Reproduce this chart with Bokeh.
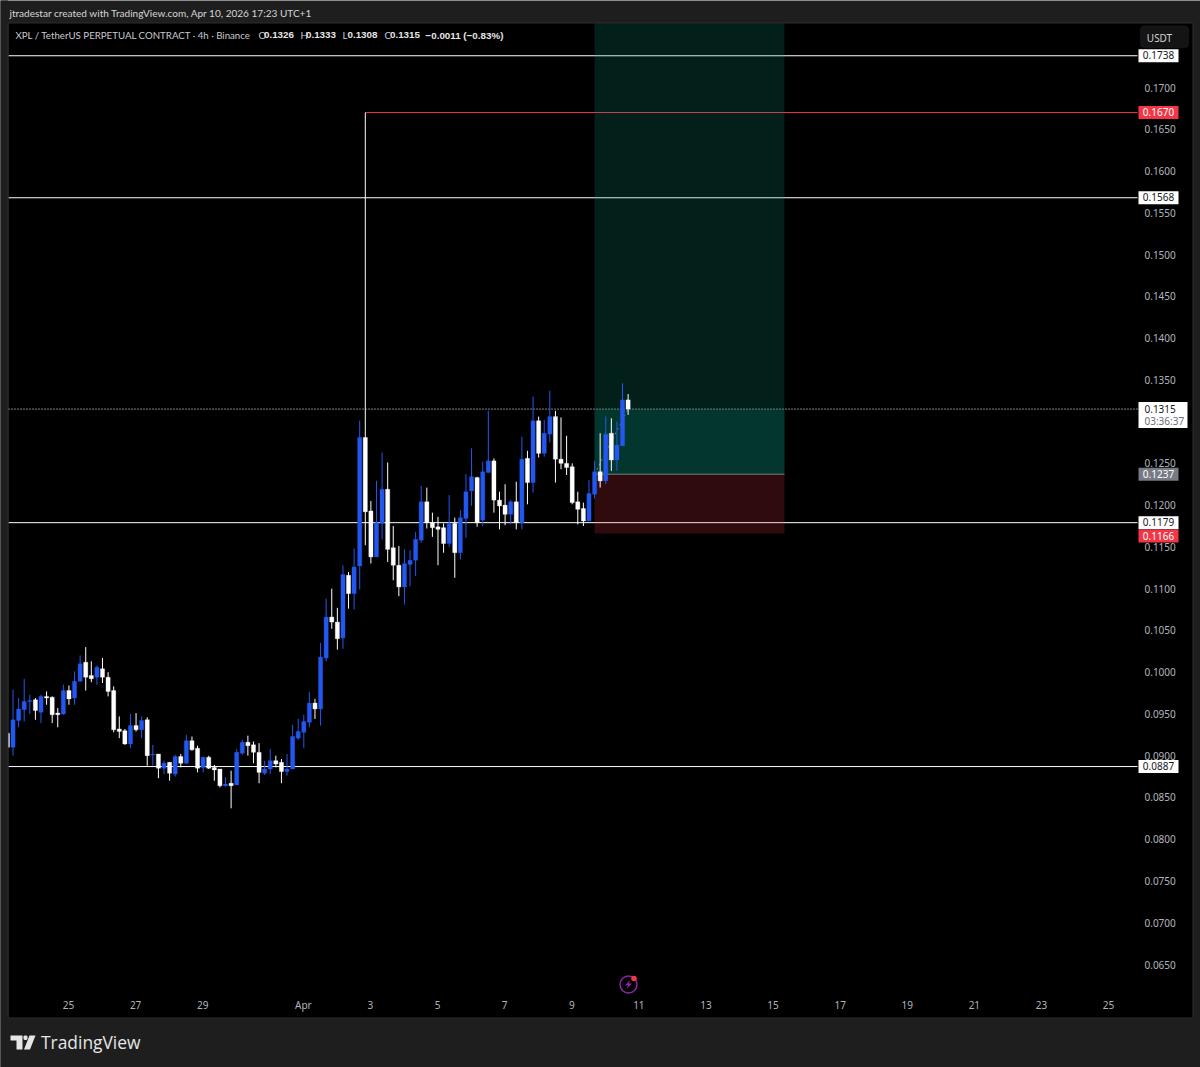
from bokeh.plotting import figure
from bokeh.embed import file_html
from bokeh.resources import INLINE
from bokeh.models import (ColumnDataSource, Range1d, LinearAxis, FixedTicker, NumeralTickFormatter,
                          Label, BoxAnnotation, PolyAnnotation)

# OHLC of the 4h candles
opens = [.0927,.0910,.0942,.0955,.0965,.0967,.0952,.0971,.0970,.0951,.0950,.0978,.0969,.0989,.1012,.0996,.0994,.1004,.0994,.0978,
         .0932,.0930,.0914,.0936,.0931,.0943,.0901,.0902,.0885,.0892,.0878,.0899,.0891,.0918,.0909,.0886,.0898,.0886,.0884,.0864,
         .0867,.0865,.0903,.0916,.0913,.0904,.0879,.0884,.0894,.0892,.0881,.0884,.0921,.0928,.0940,.0963,.0956,.1017,.1066,.1060,
         .1041,.1116,.1094,.1127,.1281,.1193,.1138,.1178,.1219,.1149,.1128,.1102,.1129,.1134,.1158,.1204,.1179,.1174,.1173,.1154,
         .1178,.1143,.1184,.1217,.1233,.1182,.1239,.1253,.1206,.1200,.1189,.1204,.1179,.1256,.1227,.1301,.1262,.1285,.1306,.1255,
         .1250,.1246,.1204,.1196,.1181,.1213,.1240,.1229,.1286,.1254,.1271,.1326]
highs = [.0928,.0979,.0969,.0992,.0973,.0969,.0973,.0977,.0971,.0957,.0985,.0984,.1001,.1020,.1030,.1013,.1008,.1017,.1000,.0983,
         .0947,.0932,.0950,.0951,.0947,.0946,.0913,.0902,.0894,.0892,.0901,.0902,.0925,.0923,.0912,.0899,.0900,.0889,.0884,.0874,
         .0882,.0908,.0919,.0924,.0917,.0915,.0894,.0908,.0900,.0896,.0902,.0937,.0944,.0949,.0976,.0968,.1035,.1088,.1100,.1077,
         .1128,.1120,.1148,.1301,.1670,.1205,.1229,.1263,.1251,.1175,.1151,.1147,.1146,.1168,.1223,.1221,.1191,.1186,.1178,.1212,
         .1185,.1194,.1237,.1268,.1234,.1252,.1313,.1256,.1216,.1225,.1206,.1228,.1282,.1265,.1330,.1306,.1302,.1337,.1313,.1305,
         .1283,.1250,.1216,.1203,.1230,.1253,.1286,.1306,.1304,.1300,.1346,.1333]
lows = [.0909,.0900,.0934,.0941,.0950,.0943,.0939,.0961,.0939,.0934,.0949,.0961,.0961,.0989,.0978,.0988,.0985,.0987,.0971,.0928,
        .0921,.0913,.0909,.0929,.0921,.0888,.0888,.0873,.0878,.0870,.0875,.0886,.0890,.0906,.0880,.0880,.0884,.0870,.0862,.0863,
        .0837,.0865,.0901,.0900,.0891,.0867,.0877,.0878,.0886,.0867,.0876,.0884,.0919,.0909,.0934,.0944,.0936,.1013,.1052,.1027,
        .1028,.1076,.1075,.1099,.1152,.1130,.1138,.1159,.1132,.1110,.1091,.1081,.1103,.1115,.1155,.1172,.1162,.1128,.1143,.1150,
        .1113,.1135,.1161,.1199,.1174,.1175,.1239,.1191,.1171,.1176,.1177,.1171,.1171,.1201,.1215,.1257,.1258,.1275,.1227,.1243,
        .1236,.1201,.1177,.1175,.1181,.1208,.1221,.1225,.1241,.1241,.1271,.1308]
closes = [.0910,.0943,.0956,.0965,.0966,.0954,.0971,.0969,.0949,.0949,.0978,.0968,.0989,.1010,.0994,.0992,.1006,.0994,.0977,.0931,
          .0929,.0914,.0936,.0931,.0942,.0900,.0902,.0885,.0891,.0879,.0899,.0891,.0918,.0907,.0885,.0898,.0885,.0883,.0864,.0866,
          .0864,.0904,.0916,.0912,.0904,.0880,.0884,.0894,.0890,.0881,.0884,.0923,.0929,.0941,.0963,.0956,.1018,.1066,.1060,.1040,
          .1117,.1094,.1126,.1281,.1192,.1138,.1179,.1219,.1147,.1128,.1102,.1130,.1134,.1159,.1204,.1179,.1173,.1171,.1154,.1178,
          .1143,.1185,.1216,.1234,.1179,.1240,.1253,.1206,.1199,.1189,.1204,.1179,.1255,.1227,.1301,.1262,.1286,.1306,.1255,.1250,
          .1245,.1203,.1195,.1181,.1214,.1240,.1229,.1285,.1254,.1272,.1326,.1315]

FIRST_CANDLE_DAY = 23.18          # days counted from 1 March
BARS_PER_DAY = 6

PRICE_TICKS = [0.0650, 0.0700, 0.0750, 0.0800, 0.0850, 0.0900, 0.0950, 0.1000, 0.1050, 0.1100, 0.1150, 0.1200,
               0.1250, 0.1300, 0.1350, 0.1400, 0.1450, 0.1500, 0.1550, 0.1600, 0.1650, 0.1700]
DAY_TICKS = [25, 27, 29, 32, 34, 36, 38, 40, 42, 44, 46, 48, 50, 52, 54, 56]
DAY_LABELS = ["25", "27", "29", "Apr", "3", "5", "7", "9", "11", "13", "15", "17", "19", "21", "23", "25"]

WHITE_LEVELS = [0.1738, 0.1568, 0.1179, 0.0887]
RED_LEVEL = 0.1670
RED_LEVEL_START_DAY = 33.84
LAST_PRICE = 0.1315
COUNTDOWN = "03:36:37"
ENTRY = 0.1237
STOP = 0.1166
POS_LEFT_DAY, POS_RIGHT_DAY = 40.678, 46.34

# page pixel <-> data calibration
W, H = 1200, 1067
PX_PER_DAY = 33.55
PX_PER_PRICE = 8352.4
L, R, T, B = 8, 1192, 23, 1017
def day_of(px): return 25 + (px - 68) / PX_PER_DAY
def price_of(py): return 0.17 - (py - 87) / PX_PER_PRICE
def y_of(price): return 87 + (0.17 - price) * PX_PER_PRICE
def sy(py): return H - py

BG = "#1e1e1e"
UP = "#2358f0"
DOWN = "#ffffff"
FONT = "Noto Sans"
HEAD_FONT = "Lato"
VALUE_FONT = "Liberation Sans"
AXIS_DAY = day_of(1137)

p = figure(width=W, height=H, output_backend="svg", toolbar_location=None,
           x_range=Range1d(day_of(0), day_of(W)), y_range=Range1d(price_of(H), price_of(0)),
           x_axis_location=None, y_axis_location=None,
           min_border_left=0, min_border_right=0, min_border_top=0, min_border_bottom=0,
           background_fill_color=BG, border_fill_color=BG, outline_line_color=None)
p.grid.visible = False

# black chart pane
p.quad(left=[day_of(L - .5)], right=[day_of(R + .5)], bottom=[price_of(B + .5)], top=[price_of(T - .5)],
       fill_color="#000000", line_color="#2c2c2c", line_width=1, level="underlay")

# axes
ya = LinearAxis(fixed_location=AXIS_DAY, ticker=FixedTicker(ticks=PRICE_TICKS),
                formatter=NumeralTickFormatter(format="0.0000"))
xa = LinearAxis(fixed_location=price_of(995), ticker=FixedTicker(ticks=DAY_TICKS),
                major_label_overrides=dict(zip(DAY_TICKS, DAY_LABELS)))
for a, st in ((ya, 7), (xa, 2)):
    a.axis_line_color = None
    a.major_tick_line_color = None
    a.minor_tick_line_color = None
    a.major_tick_in = a.major_tick_out = 0
    a.major_label_text_color = "#b2b5be"
    a.major_label_text_font = FONT
    a.major_label_text_font_size = "10px"
    a.major_label_standoff = st
p.add_layout(ya, "right")
p.add_layout(xa, "below")

# horizontal levels
left_day = day_of(L)
for lv in WHITE_LEVELS:
    p.segment([left_day], [lv], [AXIS_DAY], [lv], line_color="#ffffff", line_width=1)
p.segment([RED_LEVEL_START_DAY], [RED_LEVEL], [AXIS_DAY], [RED_LEVEL], line_color="#f23645", line_width=1)
p.segment([left_day], [LAST_PRICE], [AXIS_DAY], [LAST_PRICE], line_color="#ffffff", line_width=1, line_dash="1 2")

# position tool
G = "#089981"; Rd = "#f23645"
p.quad(left=[POS_LEFT_DAY], right=[POS_RIGHT_DAY], bottom=[ENTRY], top=[price_of(T)], fill_color=G, fill_alpha=0.2, line_color=None)
p.quad(left=[POS_LEFT_DAY], right=[POS_RIGHT_DAY], bottom=[ENTRY], top=[LAST_PRICE], fill_color=G, fill_alpha=0.2, line_color=None)
p.quad(left=[POS_LEFT_DAY], right=[POS_RIGHT_DAY], bottom=[STOP], top=[ENTRY], fill_color=Rd, fill_alpha=0.2, line_color=None)
p.segment([POS_LEFT_DAY], [ENTRY], [POS_RIGHT_DAY], [ENTRY], line_color="#787b86", line_width=1)

# candles
days = [FIRST_CANDLE_DAY + i / BARS_PER_DAY for i in range(len(opens))]
last_day = days[-1]
p.segment([POS_LEFT_DAY], [ENTRY], [last_day], [LAST_PRICE], line_color="#787b86", line_width=1, line_dash="2 3")
cols = [UP if c >= o else DOWN for o, c in zip(opens, closes)]
src = ColumnDataSource(dict(x=days, o=opens, h=highs, l=lows, c=closes, col=cols,
                            top=[max(a, b) for a, b in zip(opens, closes)],
                            bot=[min(a, b) for a, b in zip(opens, closes)]))
p.segment("x", "l", "x", "h", source=src, line_color="col", line_width=1)
p.vbar(x="x", top="top", bottom="bot", width=4.2 / PX_PER_DAY, source=src, fill_color="col", line_color="col", line_width=0.3)

# cover what runs past the pane's left edge
p.quad(left=[day_of(0)], right=[day_of(L - .5)], bottom=[price_of(H)], top=[price_of(0)],
       fill_color=BG, line_color=None, level="annotation")
p.segment([day_of(L - .5)], [price_of(T)], [day_of(L - .5)], [price_of(B)], line_color="#2c2c2c", level="annotation")

def text(x, y, txt, col, size="10px", align="left", bold=False, font=FONT):
    p.add_layout(Label(x=x, y=sy(y), x_units="screen", y_units="screen", text=txt, text_color=col,
                       text_font=font, text_font_size=size, text_align=align, text_baseline="middle",
                       text_font_style="bold" if bold else "normal", level="overlay"))

def box(l, r, t, b, fill, **kw):
    p.add_layout(BoxAnnotation(left=l, right=r, top=sy(t), bottom=sy(b),
                               left_units="screen", right_units="screen", top_units="screen", bottom_units="screen",
                               fill_color=fill, fill_alpha=1, level="overlay", **kw))

def tag(price, txt, bg, fg, dy=0):
    yc = y_of(price) + dy
    box(1138, 1178, yc - 6.5, yc + 6.5, bg, line_color=None)
    text(1158, yc - 0.5, txt, fg, align="center")

tag(0.1738, "0.1738", "#ffffff", "#131722")
tag(0.1670, "0.1670", "#f23645", "#ffffff")
tag(0.1568, "0.1568", "#ffffff", "#131722")
tag(ENTRY, "0.1237", "#787b86", "#ffffff")
tag(0.1179, "0.1179", "#ffffff", "#131722")
tag(STOP, "0.1166", "#f23645", "#ffffff", dy=2.5)
tag(0.0887, "0.0887", "#ffffff", "#131722")

# last price tag
box(1138, 1187, 401.5, 427.5, "#ffffff", line_color=None)
text(1144, 408, f"{LAST_PRICE:.4f}", "#131722")
text(1144, 420, COUNTDOWN, "#6a6d78")

# USDT button
box(1140, 1188, 25.5, 47, "#141414", line_color="#303030", line_width=1, border_radius=4)
text(1159, 37, "USDT", "#d1d4dc", align="center")

# headers
text(9, 12, "jtradestar created with TradingView.com, Apr 10, 2026 17:23 UTC+1", "#d6d6d6", size="10.05px", font=HEAD_FONT)
text(15, 34.5, "XPL / TetherUS PERPETUAL CONTRACT · 4h · Binance", "#c8cad2", size="9.7px", font=HEAD_FONT)
for xl, xv, letter, v in ((258, 263.5, "O", "0.1326"), (300, 305.5, "H", "0.1333"),
                          (342, 347, "L", "0.1308"), (384, 389.5, "C", "0.1315")):
    text(xl, 34.5, letter, "#c8cad2", size="9.7px", font=HEAD_FONT)
    text(xv, 34.5, v, "#e6e6e6", size="9.8px", bold=True, font=VALUE_FONT)
text(425, 34.5, "−0.0011 (−0.83%)", "#e6e6e6", size="9.8px", bold=True, font=VALUE_FONT)

# TradingView logo
LOGO = "#e6e6e6"
for xs, ys in (([10, 22, 22, 16, 16, 10], [1035, 1035, 1049, 1049, 1040, 1040]),
               ([29, 35, 29.5, 23.5], [1035, 1035, 1049, 1049]),
               ([23, 24, 26, 27, 27, 26, 24, 23], [1036, 1035, 1035, 1036, 1038.5, 1039.5, 1039.5, 1038.5])):
    p.add_layout(PolyAnnotation(xs=xs, ys=[sy(v) for v in ys], xs_units="screen", ys_units="screen",
                                fill_color=LOGO, fill_alpha=1, line_color=None, level="overlay"))
text(40.5, 1041.5, "TradingView", LOGO, size="17.4px", font="Open Sans")

# lightning icon near the time axis
PURPLE = "#8e24aa"
p.scatter([day_of(628)], [price_of(984)], size=17, marker="circle", fill_color=None, line_color=PURPLE, line_width=1.5)
p.add_layout(PolyAnnotation(xs=[629.5, 624.5, 627.5, 626, 631.5, 628.5],
                            ys=[sy(v) for v in (979.5, 985, 985, 988.5, 983, 983)],
                            xs_units="screen", ys_units="screen", fill_color=PURPLE, fill_alpha=1,
                            line_color=None, level="overlay"))
p.scatter([day_of(633.5)], [price_of(978)], size=5.5, marker="circle", fill_color="#f23645", line_color=None)

open("out.html", "w").write(file_html(p, INLINE))
